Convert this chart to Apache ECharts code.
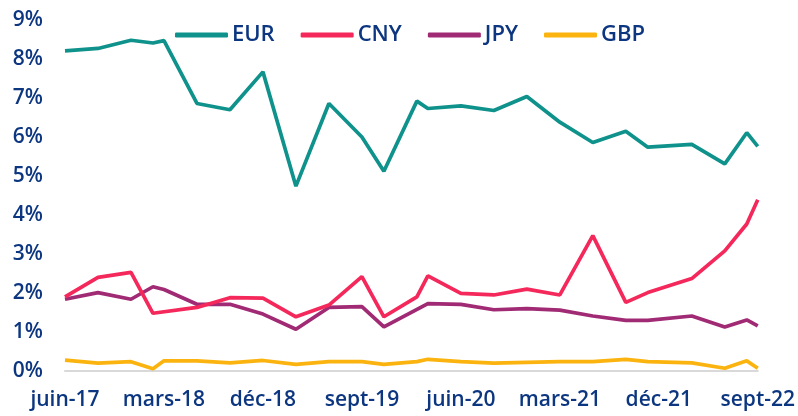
<!DOCTYPE html>
<html><head><meta charset="utf-8">
<script src="https://cdn.jsdelivr.net/npm/echarts@6/dist/echarts.min.js"></script>
<style>html,body{margin:0;padding:0;background:#fff}#c{width:798px;height:416px}</style>
</head><body><div id="c"></div>
<script>
// Monthly category axis juin-17 .. sept-22
const monthNames = ['janv','févr','mars','avr','mai','juin','juil','août','sept','oct','nov','déc'];
const categories = [];
for (let y = 17; y <= 22; y++) {
  for (let m = 0; m < 12; m++) {
    if (y === 17 && m < 5) continue;
    if (y === 22 && m > 8) continue;
    categories.push(monthNames[m] + '-' + y);
  }
}
// Observation dates
const dates = ['juin-17','sept-17','déc-17','févr-18','mars-18','juin-18','sept-18','déc-18','mars-19','juin-19','sept-19','nov-19',
  'févr-20','mars-20','juin-20','sept-20','déc-20','mars-21','juin-21','sept-21','nov-21','mars-22','juin-22','août-22','sept-22'];
const EUR = [8.21,8.27,8.48,8.41,8.47,6.86,6.70,7.67,4.74,6.86,6.00,5.12,6.92,6.73,6.80,6.68,7.04,6.38,5.86,6.15,5.74,5.81,5.31,6.11,5.76];
const CNY = [1.90,2.40,2.53,1.48,null,1.63,1.88,1.87,1.39,1.69,2.42,1.39,1.90,2.44,1.99,1.95,2.10,1.95,3.47,1.76,2.01,2.37,3.08,3.77,4.39];
const JPY = [1.84,2.01,1.84,2.16,2.09,1.71,1.71,1.46,1.07,1.63,1.65,1.13,null,1.73,1.71,1.57,1.60,1.56,1.41,1.30,1.30,1.41,1.13,1.31,1.16];
const GBP = [0.28,0.20,0.24,0.06,0.26,0.26,0.21,0.27,0.17,0.24,0.24,0.17,0.24,0.30,0.24,0.20,0.22,0.24,0.24,0.30,0.24,0.21,0.07,0.26,0.07];
const yTicks = [0,1,2,3,4,5,6,7,8,9];

const names = ['EUR','CNY','JPY','GBP'];
const colors = ['#0f928b','#f4285b','#a12a74','#fbb40f'];
const values = [EUR, CNY, JPY, GBP];
const textColor = '#0c3680';
const font = '"Open Sans", sans-serif';

function toSeriesData(arr) {
  const out = categories.map(() => null);
  dates.forEach((d, i) => { if (arr[i] !== null) out[categories.indexOf(d)] = arr[i]; });
  return out;
}

const chart = echarts.init(document.getElementById('c'));
chart.setOption({
  animation: false,
  color: colors,
  grid: {left: 65, right: 39, top: 20, bottom: 45},
  legend: {
    data: names.map(n => ({name: n, icon: 'roundRect'})),
    left: 170, top: 19, itemWidth: 53, itemHeight: 5, itemGap: 26,
    textStyle: {color: textColor, fontSize: 22, fontWeight: 600, fontFamily: font, padding: [0,0,0,-1]}
  },
  xAxis: {
    type: 'category', data: categories, boundaryGap: false,
    axisLine: {lineStyle: {color: '#d9d9d9', width: 2}},
    axisTick: {show: false},
    axisLabel: {interval: 8, color: textColor, fontSize: 21, fontWeight: 600, fontFamily: font, margin: 19}
  },
  yAxis: {
    type: 'value', min: yTicks[0], max: yTicks[yTicks.length-1], interval: 1,
    axisLine: {show: false}, axisTick: {show: false}, splitLine: {show: false},
    axisLabel: {color: textColor, fontSize: 21, fontWeight: 600, fontFamily: font, margin: 22, formatter: '{value}%'}
  },
  series: names.map((n, i) => ({
    name: n, type: 'line', data: toSeriesData(values[i]), connectNulls: true,
    symbol: 'none', lineStyle: {width: 3.7, color: colors[i]}, z: 10 - i
  }))
});
</script></body></html>
